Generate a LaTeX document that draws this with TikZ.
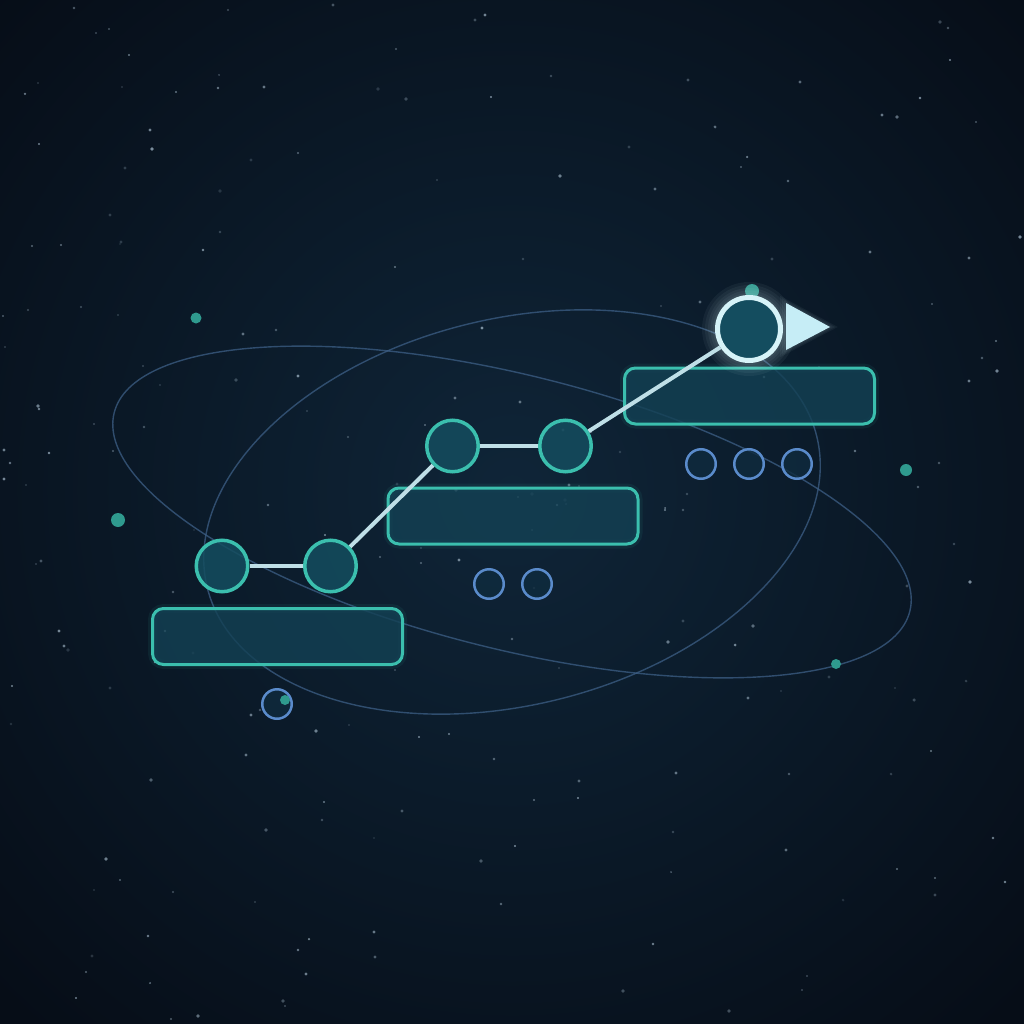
\documentclass[tikz,border=0pt]{standalone}
\usetikzlibrary{calc}
\definecolor{bgouter}{HTML}{060D17}
\definecolor{bgcenter}{HTML}{0F2538}
\definecolor{orbit}{HTML}{3D5F86}
\definecolor{teal}{HTML}{3BBFAE}
\definecolor{boxfill}{HTML}{134154}
\definecolor{circfill}{HTML}{144D5F}
\definecolor{linkc}{HTML}{BFDFE7}
\definecolor{bigstroke}{HTML}{D6F3F8}
\definecolor{trifill}{HTML}{C6EDF6}
\definecolor{smallblue}{HTML}{5A8BCB}
\definecolor{smallfill}{HTML}{0F2B3E}
\definecolor{dotteal}{HTML}{2F9A8E}
\definecolor{starc}{HTML}{9AAEBE}
\tikzset{
  stepbox/.style={draw=teal, line width=3pt, fill=boxfill, fill opacity=0.8,
    rounded corners=11pt, minimum width=250pt, minimum height=56pt, inner sep=0pt,
    preaction={draw=teal, line width=9pt, draw opacity=0.08, fill opacity=0}},
  stepcirc/.style={circle, draw=teal, line width=3.5pt, fill=circfill, fill opacity=0.85,
    minimum size=51.5pt, inner sep=0pt},
  goalcirc/.style={circle, draw=bigstroke, line width=5pt, fill=circfill,
    minimum size=63pt, inner sep=0pt},
  smallcirc/.style={circle, draw=smallblue, line width=2.5pt, fill=smallfill, fill opacity=0.8,
    minimum size=29.5pt, inner sep=0pt},
  linkline/.style={draw=linkc, line width=4pt},
  orbitline/.style={draw=orbit, line width=1.4pt, draw opacity=0.75},
  orbitdot/.style={fill=dotteal},
  starpt/.style={fill=starc},
  glowpt/.style={fill=bigstroke, fill opacity=0.05}
}
\begin{document}
\begin{tikzpicture}[x=1pt,y=-1pt]
\useasboundingbox (0,0) rectangle (1024,1024);
% background
\fill[bgouter] (0,0) rectangle (1024,1024);
\begin{scope}
\clip (0,0) rectangle (1024,1024);
\shade[inner color=bgcenter, outer color=bgouter] (512,490) circle (720pt);
\end{scope}
% stars
\pgfmathsetseed{7321}
\foreach \i in {1,...,210}{
  \pgfmathsetmacro{\sx}{random(3,1021)}
  \pgfmathsetmacro{\sy}{random(3,1021)}
  \pgfmathsetmacro{\so}{0.2+0.6*rnd}
  \pgfmathsetmacro{\sr}{0.8+1.1*rnd}
  \fill[starpt, opacity=\so] (\sx,\sy) circle (\sr pt);
}
% orbits
\draw[orbitline, rotate around={-14:(512,512)}] (512,512) ellipse [x radius=410pt, y radius=137pt];
\draw[orbitline, rotate around={14:(512,512)}] (512,512) ellipse [x radius=314pt, y radius=193pt];
% orbit dots
\fill[orbitdot] (196,318) circle (5.5pt);
\fill[orbitdot] (118,520) circle (7pt);
\fill[orbitdot] (906,470) circle (6pt);
\fill[orbitdot] (836,664) circle (5pt);
\fill[orbitdot] (752,291) circle (7pt);
% step boxes
\node[stepbox] (s1) at (277.5,636.5) {};
\node[stepbox] (s2) at (513,516) {};
\node[stepbox] (s3) at (749.5,396) {};
% small circles
\node[smallcirc] (a1) at (277,704) {};
\fill[orbitdot] (285,700) circle (5pt);
\node[smallcirc] (b1) at (489,584) {};
\node[smallcirc] (b2) at (537,584) {};
\node[smallcirc] (d1) at (701,464) {};
\node[smallcirc] (d2) at (749,464) {};
\node[smallcirc] (d3) at (797,464) {};
% glow around goal
\foreach \r in {36,38.5,41,44,47}{
  \fill[glowpt] (749,329) circle (\r pt);
}
\foreach \d in {2,4,6}{
  \fill[glowpt] ($(786,303)+(-\d,-1.2*\d)$) -- ($(830,327)+(1.3*\d,0)$) -- ($(786,350)+(-\d,1.2*\d)$) -- cycle;
}
% path nodes
\node[stepcirc] (c1) at (222,566) {};
\node[stepcirc] (c2) at (330.5,566) {};
\node[stepcirc] (c3) at (452.5,446) {};
\node[stepcirc] (c4) at (565.5,446) {};
\node[goalcirc] (g) at (749,329) {};
% connectors
\draw[linkline] (c1) -- (c2);
\draw[linkline] (c2) -- (c3);
\draw[linkline] (c3) -- (c4);
\draw[linkline] (c4) -- (g);
% pointer triangle
\fill[trifill] (786,303) -- (830,327) -- (786,350) -- cycle;
\end{tikzpicture}
\end{document}
